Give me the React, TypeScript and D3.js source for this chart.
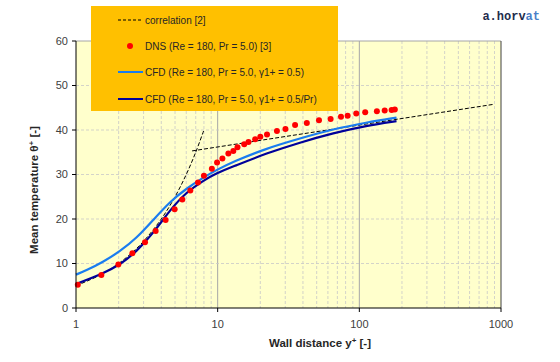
import * as d3 from "d3";
import { useEffect } from "react";

// DNS (Re = 180, Pr = 5.0)
const dnsY = [1.03, 1.51, 1.99, 2.5, 3.07, 3.65, 4.29, 4.97, 5.63, 6.41, 7.26, 8.0, 9.1, 9.9, 10.8, 11.9, 12.9, 13.8, 15.4, 16.5, 18.4, 20.0, 22.3, 26.2, 30.1, 35.2, 42.6, 51.9, 62.7, 74.2, 82.7, 95.1, 110, 133, 151, 169, 178];
const dnsT = [5.2, 7.4, 9.8, 12.3, 14.8, 17.3, 19.8, 22.2, 24.4, 26.4, 28.2, 29.7, 31.3, 32.7, 33.6, 34.7, 35.3, 36.1, 36.8, 37.3, 37.9, 38.5, 39.0, 39.8, 40.2, 41.1, 41.6, 42.2, 42.5, 43.0, 43.2, 43.7, 44.0, 44.2, 44.4, 44.5, 44.6];

// correlation, linear (viscous) branch and log branch
const corrLinY = [1, 1.5, 2, 2.5, 3, 4, 5, 6, 7, 8];
const corrLinT = [5, 7.5, 10, 12.5, 15, 20, 25, 30, 35, 40];
const corrLogY = [6.6, 900];
const corrLogT = [35.3, 45.8];

// CFD, y1+ = 0.5
const cfd1Y = [1, 1.19, 1.56, 2.04, 2.68, 3.51, 4.6, 6.05, 7.9, 9.8, 12.9, 22.2, 38.1, 65.4, 112.6, 183];
const cfd1T = [7.5, 8.5, 10.4, 12.7, 15.7, 19.8, 23.9, 26.9, 29.3, 31.0, 32.9, 35.9, 38.1, 40.2, 41.7, 42.8];

// CFD, y1+ = 0.5/Pr
const cfd2Y = [1, 1.56, 2.04, 2.68, 3.51, 4.6, 6.05, 7.9, 9.8, 12.9, 22.2, 38.1, 65.4, 112.6, 183];
const cfd2T = [5.4, 7.8, 9.7, 12.7, 16.8, 22.0, 26.1, 28.6, 30.3, 31.8, 34.8, 37.2, 39.3, 41.0, 42.0];

const yTicks = [0, 10, 20, 30, 40, 50, 60];
const xTicks = [1, 10, 100, 1000];

const legendItems = [
  "correlation [2]",
  "DNS (Re = 180, Pr = 5.0) [3]",
  "CFD (Re = 180, Pr = 5.0, \u03b31+ = 0.5)",
  "CFD (Re = 180, Pr = 5.0, \u03b31+ = 0.5/Pr)",
];

const W = 560;
const H = 362;
const m = { left: 76, right: 59, top: 41, bottom: 54 };
const FONT = "'Liberation Sans', Arial, sans-serif";

export default function App() {
  useEffect(() => {
    document.body.style.margin = "0";
  }, []);

  const x = d3.scaleLog().domain([1, 1000]).range([m.left, W - m.right]);
  const y = d3.scaleLinear().domain([0, 60]).range([H - m.bottom, m.top]);

  const line = d3
    .line<[number, number]>()
    .x((d) => x(d[0]))
    .y((d) => y(d[1]))
    .curve(d3.curveCatmullRom);
  const smooth = d3
    .line<[number, number]>()
    .x((d) => x(d[0]))
    .y((d) => y(d[1]))
    .curve(d3.curveBasis);
  const zip = (a: number[], b: number[]) => a.map((v, i) => [v, b[i]] as [number, number]);

  const minor: number[] = [];
  [1, 10, 100].forEach((dec) => {
    for (let k = 2; k <= 9; k++) minor.push(dec * k);
  });

  const legendRows = [20, 46, 72, 99];

  return (
    <svg width={W} height={H} style={{ display: "block", background: "#fff" }} fontFamily={FONT}>
      <rect x={m.left} y={m.top} width={x(1000) - m.left} height={y(0) - m.top} fill="#ffffcc" />

      {/* grid */}
      {minor.map((v) => (
        <line key={"mx" + v} x1={x(v)} x2={x(v)} y1={m.top} y2={y(0)} stroke="#c8c8c8" strokeWidth={0.8} strokeDasharray="3,2" />
      ))}
      {[10, 100].map((v) => (
        <line key={"Mx" + v} x1={x(v)} x2={x(v)} y1={m.top} y2={y(0)} stroke="#a6a6a6" strokeWidth={1} />
      ))}
      {yTicks.slice(1, -1).map((v) => (
        <line key={"gy" + v} x1={m.left} x2={x(1000)} y1={y(v)} y2={y(v)} stroke="#c8c8c8" strokeWidth={0.8} strokeDasharray="3,2" />
      ))}
      <line x1={m.left} x2={x(1000)} y1={y(60)} y2={y(60)} stroke="#a6a6a6" />
      <line x1={x(1000)} x2={x(1000)} y1={y(60)} y2={y(0)} stroke="#404040" />

      {/* correlation */}
      <path d={line(zip(corrLinY, corrLinT)) ?? ""} fill="none" stroke="#000" strokeWidth={1} strokeDasharray="4,2" />
      <path d={line(zip(corrLogY, corrLogT)) ?? ""} fill="none" stroke="#000" strokeWidth={1} strokeDasharray="4,2" />

      {/* CFD */}
      <path d={smooth(zip(cfd1Y, cfd1T)) ?? ""} fill="none" stroke="#1a7cf0" strokeWidth={2.2} />
      <path d={smooth(zip(cfd2Y, cfd2T)) ?? ""} fill="none" stroke="#00009a" strokeWidth={2.2} />

      {/* DNS */}
      {dnsY.map((v, i) => (
        <circle key={"d" + i} cx={x(v)} cy={y(dnsT[i])} r={3} fill="#ff0000" />
      ))}

      {/* axes */}
      <line x1={m.left} x2={m.left} y1={y(60)} y2={y(0)} stroke="#000" />
      <line x1={m.left} x2={x(1000)} y1={y(0)} y2={y(0)} stroke="#000" />
      {yTicks.map((v) => (
        <g key={"ty" + v}>
          <line x1={m.left - 4} x2={m.left} y1={y(v)} y2={y(v)} stroke="#000" />
          <text x={m.left - 8} y={y(v)} dy="0.35em" textAnchor="end" fontSize={11} fill="#404040">
            {v}
          </text>
        </g>
      ))}
      {xTicks.map((v) => (
        <g key={"tx" + v}>
          <line x1={x(v)} x2={x(v)} y1={y(0)} y2={y(0) + 4} stroke="#000" />
          <text x={x(v)} y={y(0) + 20} textAnchor="middle" fontSize={11} fill="#404040">
            {v}
          </text>
        </g>
      ))}

      <text x={320} y={347} textAnchor="middle" fontSize={11.5} fontWeight="bold" fill="#262626">
        Wall distance y<tspan dy={-4} fontSize={8}>+</tspan>
        <tspan dy={4}> [-]</tspan>
      </text>
      <text transform="translate(38,190) rotate(-90)" textAnchor="middle" fontSize={11.5} fontWeight="bold" fill="#262626">
        Mean temperature {"\u03b8"}
        <tspan dy={-4} fontSize={8}>+</tspan>
        <tspan dy={4}> [-]</tspan>
      </text>

      {/* legend */}
      <rect x={91} y={6} width={247} height={105} fill="#ffc000" />
      {legendItems.map((t, i) => {
        const cy = legendRows[i];
        return (
          <g key={"l" + i}>
            {i === 0 && <line x1={118} x2={143} y1={cy} y2={cy} stroke="#000" strokeDasharray="3,2" />}
            {i === 1 && <circle cx={130} cy={cy} r={3} fill="#ff0000" />}
            {i === 2 && <line x1={118} x2={143} y1={cy} y2={cy} stroke="#1a7cf0" strokeWidth={2} />}
            {i === 3 && <line x1={118} x2={143} y1={cy} y2={cy} stroke="#00009a" strokeWidth={2} />}
            <text x={145} y={cy} dy="0.35em" fontSize={10} fill="#262626">
              {t}
            </text>
          </g>
        );
      })}

      <text x={540} y={20} textAnchor="end" fontFamily="'Liberation Mono', 'DejaVu Sans Mono', monospace" fontWeight="bold" fontSize={12}>
        <tspan fill="#1f2d4d">a.horv</tspan>
        <tspan fill="#4a7fc8">at</tspan>
      </text>
    </svg>
  );
}
